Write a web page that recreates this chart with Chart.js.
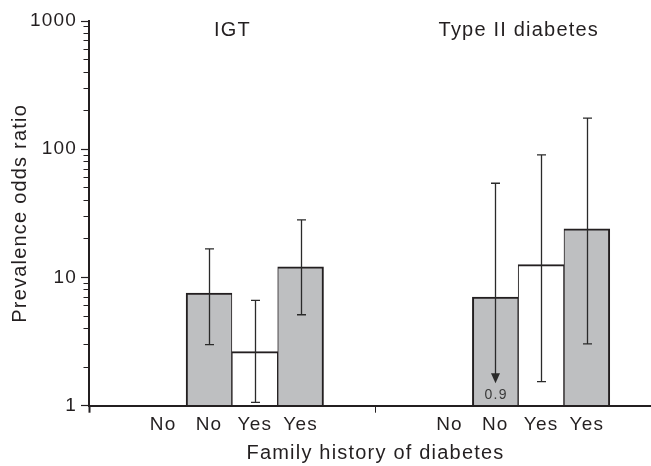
<!DOCTYPE html>
<html><head><meta charset="utf-8">
<script src="https://cdn.jsdelivr.net/npm/chart.js@4.4.1/dist/chart.umd.min.js"></script>
<style>html,body{margin:0;padding:0;background:#fff;overflow:hidden;width:651px;height:466px;}canvas{display:block;}</style>
</head><body>
<canvas id="c" width="662" height="466"></canvas>
<script>
// ---- data ----
const groups = ['IGT', 'Type II diabetes'];
const groupStart = [1, 7.25];
const categories = ['No', 'No', 'Yes', 'Yes'];
const igtOR   = [1, 7.55, 2.64, 12.1];
const igtLow  = [null, 2.99, 1.06, 5.12];
const igtHigh = [null, 16.7, 6.63, 28.1];
const t2OR    = [1, 7.03, 12.6, 23.9];
const t2Low   = [null, 0.9, 1.54, 3.04];
const t2High  = [null, 54.3, 90.3, 175];
const yTicks  = [1, 10, 100, 1000];
const xTitle = 'Family history of diabetes';
const yTitle = 'Prevalence odds ratio';

// ---- styles ----
const INK = '#231f20';
const FONT = 'Liberation Sans, Arial, Helvetica, sans-serif';
const fills = ['#ffffff', '#bebfc1', '#ffffff', '#bebfc1'];
const borders = [0,
  {top: 2, bottom: 0, left: 2, right: 1},
  {top: 2, bottom: 0, left: 1, right: 1},
  {top: 2, bottom: 0, left: 1, right: 2}];

const series = [[igtOR, igtLow, igtHigh], [t2OR, t2Low, t2High]];
const points = [];
series.forEach((s, g) => {
  categories.forEach((c, i) => {
    points.push({x: groupStart[g] + i, i, label: c, or: s[0][i], lo: s[1][i], hi: s[2][i]});
  });
});
const xMin = -0.62, xMax = 11.89;
const midTick = (groupStart[0] + categories.length - 1 + groupStart[1]) / 2;
const tickVals = [xMin, ...points.map(p => p.x), midTick].sort((a, b) => a - b);
const labelAt = v => { const p = points.find(q => Math.abs(q.x - v) < 1e-6); return p ? p.label : ''; };
const isMajor = v => Math.abs(Math.log10(v) - Math.round(Math.log10(v))) < 1e-9;
const tv = ctx => (ctx && ctx.tick) ? ctx.tick.value : null;
const near = (a, b) => a != null && Math.abs(a - b) < 1e-6;

const spacing = {
  id: 'spacing',
  beforeDraw(chart) { chart.ctx.letterSpacing = '1.2px'; }
};

const errorBars = {
  id: 'errorBars',
  afterDatasetsDraw(chart) {
    const {ctx, scales: {x, y}} = chart;
    ctx.save();
    ctx.strokeStyle = '#2a2a2a';
    ctx.fillStyle = '#2a2a2a';
    ctx.lineWidth = 1.3;
    points.forEach(p => {
      if (p.lo == null) return;
      const px = Math.round(x.getPixelForValue(p.x)) + 0.5;
      const yh = y.getPixelForValue(p.hi);
      const below = p.lo < y.min;
      const base = y.getPixelForValue(y.min);
      const yl = below ? base - 22.4 : y.getPixelForValue(p.lo);
      ctx.beginPath();
      ctx.moveTo(px, yh); ctx.lineTo(px, below ? yl - 9 : yl);
      ctx.moveTo(px - 4.5, yh); ctx.lineTo(px + 4.5, yh);
      if (!below) { ctx.moveTo(px - 4.5, yl); ctx.lineTo(px + 4.5, yl); }
      ctx.stroke();
      if (below) {
        ctx.beginPath();
        ctx.moveTo(px - 4.5, yl - 10); ctx.lineTo(px + 4.5, yl - 10); ctx.lineTo(px, yl);
        ctx.closePath(); ctx.fill();
        ctx.font = '14px ' + FONT;
        ctx.fillStyle = '#3a3a3a';
        ctx.textAlign = 'center';
        ctx.textBaseline = 'alphabetic';
        ctx.fillText(String(p.lo), px + 0.6, base - 6.4);
        ctx.fillStyle = '#2a2a2a';
      }
    });
    // group headings
    ctx.font = '20px ' + FONT;
    ctx.fillStyle = INK;
    ctx.textAlign = 'center';
    ctx.textBaseline = 'alphabetic';
    groups.forEach((g, k) => {
      const cx = x.getPixelForValue(groupStart[k] + (categories.length - 1) / 2);
      ctx.fillText(g, cx + 0.6, chart.chartArea.top + 14.5);
    });
    ctx.restore();
  }
};

new Chart(document.getElementById('c'), {
  type: 'bar',
  data: {
    datasets: [{
      data: points.map(p => ({x: p.x, y: p.or})),
      backgroundColor: points.map(p => fills[p.i]),
      borderColor: INK,
      borderWidth: ctx => (ctx && ctx.dataIndex != null && points[ctx.dataIndex]) ? borders[points[ctx.dataIndex].i] : 0,
      barPercentage: 1,
      categoryPercentage: 1
    }]
  },
  options: {
    responsive: false,
    animation: false,
    layout: {padding: {top: 21, right: 0, bottom: 0, left: 0}},
    plugins: {legend: {display: false}, tooltip: {enabled: false}},
    scales: {
      x: {
        type: 'linear', min: xMin, max: xMax, offset: false,
        border: {color: INK, width: 2, z: 1},
        grid: {
          offset: false, drawOnChartArea: false, tickLength: 7,
          tickColor: ctx => (near(tv(ctx), xMin) || near(tv(ctx), midTick)) ? INK : 'rgba(0,0,0,0)',
          tickWidth: ctx => near(tv(ctx), xMin) ? 2 : 1
        },
        afterBuildTicks: s => { s.ticks = tickVals.map(v => ({value: v})); },
        ticks: {autoSkip: false, maxRotation: 0, padding: 1, color: INK, font: {family: FONT, size: 19},
          callback: v => labelAt(v)},
        title: {display: true, text: xTitle, color: INK, font: {family: FONT, size: 20}, padding: {top: 0, bottom: 1}},
        afterFit: s => { s.height = 60.3; }
      },
      y: {
        type: 'logarithmic', min: 1, max: 1000,
        border: {color: INK, width: 2, z: 1},
        grid: {
          drawOnChartArea: false, tickLength: 8, tickColor: INK, tickWidth: 1.2,
          tickBorderDash: ctx => (tv(ctx) == null || isMajor(tv(ctx))) ? [] : [0, 2.5, 6, 100]
        },
        afterBuildTicks: s => {
          const t = [];
          for (let e = 0; e < 3; e++) for (let m = 1; m < 10; m++) t.push({value: m * Math.pow(10, e)});
          t.push({value: 1000});
          s.ticks = t;
        },
        ticks: {autoSkip: false, padding: 4, color: INK, font: {family: FONT, size: 19},
          callback: v => yTicks.some(t => Math.abs(t - v) < 1e-6) ? String(Math.round(v)) : ''},
        title: {display: true, text: yTitle, color: INK, font: {family: FONT, size: 20}, padding: {top: 8, bottom: 0}},
        afterFit: s => { s.width = 89; }
      }
    }
  },
  plugins: [spacing, errorBars]
});
</script>
</body></html>
